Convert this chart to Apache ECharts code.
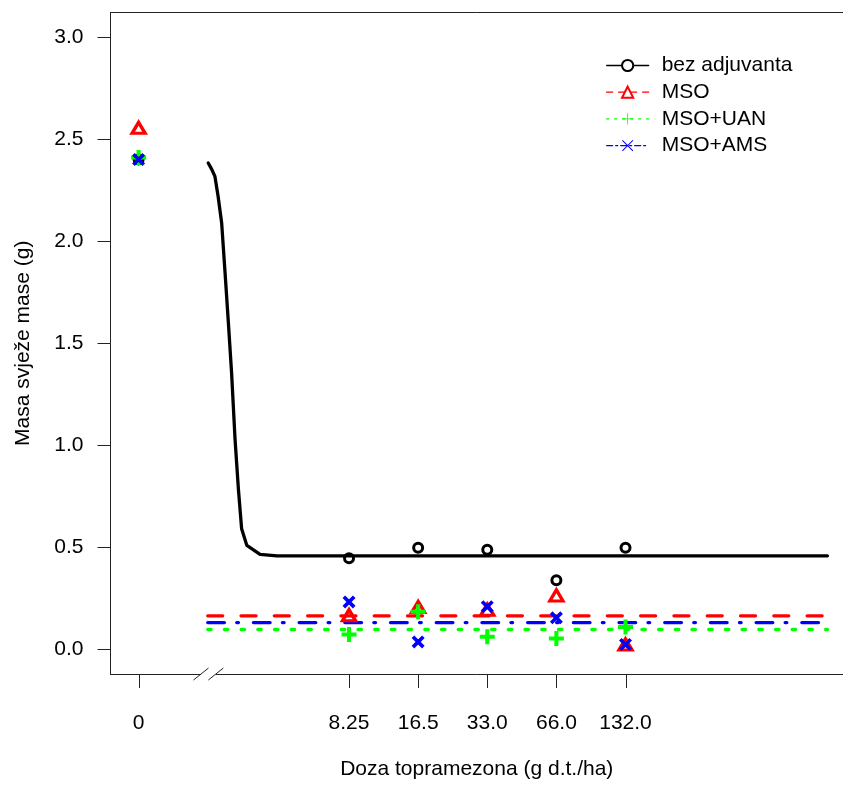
<!DOCTYPE html>
<html><head><meta charset="utf-8">
<script src="https://cdn.jsdelivr.net/npm/echarts@6/dist/echarts.min.js"></script>
<style>html,body{margin:0;padding:0;background:#fff}#c{width:843px;height:785px}</style>
</head><body><div id="c"></div>
<script>
// ---- data ----
const doseLevels = [0, 8.25, 16.5, 33, 66, 132];
const doseTickLabels = ['0', '8.25', '16.5', '33.0', '66.0', '132.0'];
const seriesNames = ['bez adjuvanta', 'MSO', 'MSO+UAN', 'MSO+AMS'];
const bezAdjuvanta = [2.40, 0.447, 0.498, 0.489, 0.339, 0.498];
const msoMean      = [2.555, 0.168, 0.208, 0.195, 0.265, 0.025];
const msoUanMean   = [2.41, 0.073, 0.185, 0.062, 0.054, 0.11];
const msoAmsMean   = [2.40, 0.233, 0.037, 0.21, 0.155, 0.025];
// fitted curve for "bez adjuvanta"
const curveDose = [2.01, 2.08, 2.15, 2.22, 2.30, 2.38, 2.46, 2.54, 2.63, 2.72, 2.81, 2.96, 3.38, 4.0, 1000];
const curveMass = [2.383, 2.353, 2.317, 2.219, 2.089, 1.845, 1.601, 1.357, 1.031, 0.787, 0.591, 0.510, 0.466, 0.459, 0.459];
// fitted horizontal lines
const fitDose = [2, 1000];
const msoFit = [0.165, 0.165];
const msoUanFit = [0.098, 0.098];
const msoAmsFit = [0.132, 0.132];
const yTicks = [0, 0.5, 1.0, 1.5, 2.0, 2.5, 3.0];

// ---- layout / style ----
const CONTROL_POS = 1;          // position on the log axis where dose 0 is drawn
const BREAK_AT = [1.87, 2.17];  // axis break marks
const X_MIN = 0.7544, X_MAX = 1169, Y_MIN = -0.12, Y_MAX = 3.12;
const FONT = "'Liberation Sans', Arial, sans-serif";
const AX = '#222';
const plotDose = doseLevels.map(d => d === 0 ? CONTROL_POS : d);
const tickPos = plotDose.slice();
const pair = (xs, ys) => xs.map((x, i) => [x, ys[i]]);

const PLUS = 'path://M0,7.3H20V12.7H0Z M7.3,0H12.7V20H7.3Z';
const CROSS = 'path://M0,4L4,0L20,16L16,20Z M16,0L20,4L4,20L0,16Z';
const PLUS_THIN = 'path://M0,9.3H20V10.7H0Z M9.3,0H10.7V20H9.3Z';
const CROSS_THIN = 'path://M0,1.2L1.2,0L20,18.8L18.8,20Z M18.8,0L20,1.2L1.2,20L0,18.8Z';

function labelFor(v) {
  let best = 0, bd = Infinity;
  tickPos.forEach((t, i) => { const d = Math.abs(Math.log2(v) - Math.log2(t)); if (d < bd) { bd = d; best = i; } });
  return doseTickLabels[best];
}

const chart = echarts.init(document.getElementById('c'));
const lineCommon = { type: 'line', showSymbol: false, silent: true, z: 2 };
chart.setOption({
  animation: false,
  backgroundColor: '#fff',
  grid: { left: 110.5, right: 0, top: 12.5, bottom: 109.5 },
  legend: {
    orient: 'vertical', left: 601, top: 50, itemWidth: 42, itemHeight: 14, itemGap: 5.7,
    selectedMode: false,
    textStyle: { fontSize: 21, color: '#000', fontFamily: FONT, padding: [0, 0, 0, 8] },
    data: [
      { name: 'bez adjuvanta', lineStyle: { width: 1.3, type: 'solid' } },
      { name: 'MSO', lineStyle: { width: 1.3, type: [6, 6] } },
      { name: 'MSO+UAN', lineStyle: { width: 1.3, type: [2, 6] } },
      { name: 'MSO+AMS', lineStyle: { width: 1.3, type: [6, 3, 2, 3] } }
    ]
  },
  xAxis: {
    type: 'log', logBase: 2, min: X_MIN, max: X_MAX, position: 'bottom',
    axisLine: { show: true, onZero: false, lineStyle: { color: AX, width: 1 } },
    splitLine: { show: false },
    axisTick: { show: false },
    axisLabel: { customValues: tickPos, margin: 39, fontSize: 21, color: '#000', fontFamily: FONT, formatter: v => labelFor(v) },
    name: 'Doza topramezona (g d.t./ha)', nameLocation: 'middle', nameGap: 85,
    nameTextStyle: { fontSize: 21, color: '#000', fontFamily: FONT }
  },
  yAxis: {
    type: 'value', min: Y_MIN, max: Y_MAX,
    axisLine: { show: true, onZero: false, lineStyle: { color: AX, width: 1 } },
    splitLine: { show: false },
    axisTick: { show: true, length: 13, customValues: yTicks, lineStyle: { color: AX, width: 1 } },
    axisLabel: { customValues: yTicks, margin: 27, fontSize: 21, color: '#000', fontFamily: FONT, formatter: v => v.toFixed(1) },
    name: 'Masa svježe mase (g)', nameLocation: 'middle', nameGap: 77,
    nameTextStyle: { fontSize: 21, color: '#000', fontFamily: FONT }
  },
  series: [
    Object.assign({}, lineCommon, { name: seriesNames[0], data: pair(curveDose, curveMass), smooth: false,
      symbol: 'emptyCircle', itemStyle: { color: '#000' }, lineStyle: { color: '#000', width: 3.3, cap: 'round', join: 'round' } }),
    Object.assign({}, lineCommon, { name: seriesNames[1], data: pair(fitDose, msoFit),
      symbol: 'emptyTriangle', itemStyle: { color: '#ff0000' }, lineStyle: { color: '#ff0000', width: 3.3, type: [15, 18.3], cap: 'round' } }),
    Object.assign({}, lineCommon, { name: seriesNames[2], data: pair(fitDose, msoUanFit),
      symbol: PLUS_THIN, itemStyle: { color: '#00ff00' }, lineStyle: { color: '#00ff00', width: 3.3, type: [3.4, 13.3], cap: 'round' } }),
    Object.assign({}, lineCommon, { name: seriesNames[3], data: pair(fitDose, msoAmsFit),
      symbol: CROSS_THIN, itemStyle: { color: '#0000ff' }, lineStyle: { color: '#0000ff', width: 3.3, type: [16.7, 12.3, 1.7, 15], cap: 'round' } }),
    { type: 'scatter', name: seriesNames[0], z: 3, data: pair(plotDose, bezAdjuvanta), symbol: 'circle', symbolSize: 9,
      itemStyle: { color: 'rgba(0,0,0,0)', borderColor: '#000', borderWidth: 3, opacity: 1 } },
    { type: 'scatter', name: seriesNames[1], z: 3, data: pair(plotDose, msoMean), symbol: 'triangle', symbolSize: [13, 11],
      itemStyle: { color: 'rgba(0,0,0,0)', borderColor: '#ff0000', borderWidth: 3.3, opacity: 1 } },
    { type: 'scatter', name: seriesNames[2], z: 3, data: pair(plotDose, msoUanMean), symbol: PLUS, symbolSize: 15,
      itemStyle: { color: '#00ff00', opacity: 1 } },
    { type: 'scatter', name: seriesNames[3], z: 3, data: pair(plotDose, msoAmsMean), symbol: CROSS, symbolSize: 13,
      itemStyle: { color: '#0000ff', opacity: 1 } },
    // decorations: top frame line, x-axis ticks and the axis-break marks
    { type: 'custom', silent: true, clip: false, z: 10, data: [[BREAK_AT[0], 0]],
      renderItem: (params, api) => {
        const a = api.coord([BREAK_AT[0], Y_MIN]);
        const b = api.coord([BREAK_AT[1], Y_MIN]);
        const tl = api.coord([X_MIN, Y_MAX]);
        const tr = api.coord([X_MAX, Y_MAX]);
        const st = { stroke: AX, lineWidth: 1 };
        const ticks = tickPos.map(t => {
          const p = api.coord([t, Y_MIN]);
          const x = Math.round(p[0]) + 0.5;
          return { type: 'line', shape: { x1: x, y1: p[1], x2: x, y2: p[1] + 14 }, style: st };
        });
        return { type: 'group', children: [
          { type: 'line', shape: { x1: tl[0], y1: tl[1], x2: tr[0], y2: tr[1] }, style: st },
          { type: 'rect', shape: { x: a[0], y: a[1] - 2, width: b[0] - a[0], height: 4 }, style: { fill: '#fff' } },
          { type: 'line', shape: { x1: a[0] - 7.5, y1: a[1] + 6, x2: a[0] + 7.5, y2: a[1] - 6 }, style: st },
          { type: 'line', shape: { x1: b[0] - 7.5, y1: b[1] + 6, x2: b[0] + 7.5, y2: b[1] - 6 }, style: st }
        ].concat(ticks) };
      } }
  ]
});
</script>
</body></html>
